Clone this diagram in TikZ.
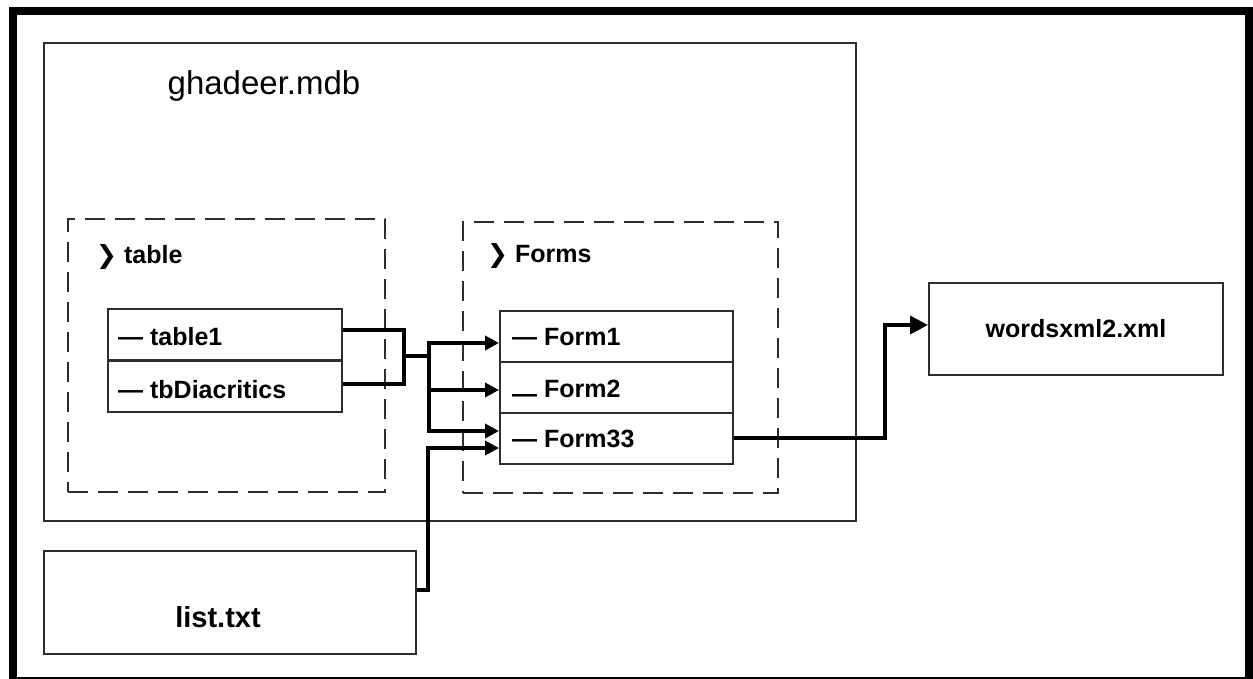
\documentclass[tikz,border=0pt]{standalone}
\usepackage{fontspec}
\setmainfont{Liberation Sans}
\newfontfamily\chevfont{DejaVu Sans}
\usetikzlibrary{arrows.meta,positioning}
\definecolor{fline}{HTML}{2E2E2E}

\begin{document}
\begin{tikzpicture}[x=1pt, y=-1pt,
  box/.style={draw=fline, line width=2pt, inner sep=0pt},
  group/.style={draw=fline, line width=2pt, dash pattern=on 20pt off 10pt, inner sep=0pt},
  row/.style={box, minimum width=234pt, minimum height=51pt},
  lbl/.style={font=\fontsize{25}{30}\selectfont\bfseries, anchor=base west, inner sep=0pt},
  conn/.style={line width=3.5pt},
  arr/.style={conn, -{Triangle[length=14pt,width=14pt]}},
  bigarr/.style={conn, -{Triangle[length=18pt,width=18pt]}}]
\useasboundingbox (0,0) rectangle (1253,679);
% ---- frame ----
\fill[black] (9,7) rectangle (1253,679);
\fill[white] (17,15) rectangle (1245,677);
% ---- database ----
\node[box, minimum width=812pt, minimum height=478pt] (mdb) at (450,282) {};
\node[font=\fontsize{33}{38}\selectfont, anchor=base, inner sep=0pt] (mdbname) at (264,95) {ghadeer.mdb};
% ---- table group ----
\node[group, minimum width=317pt, minimum height=273pt] (tabgrp) at (226.5,355.5) {};
\node[lbl] (tabhead) at (96,263) {{\chevfont\fontsize{25}{30}\selectfont ❯} table};
\node[row] (t1) at (225,334.5) {};
\node[row] (tbd) at (225,386) {};
\node[lbl] (t1name) at (118,345) {— table1};
\node[lbl] (tbdname) at (118,398) {— tbDiacritics};
% ---- forms group ----
\node[group, minimum width=315pt, minimum height=271pt] (formgrp) at (620.5,357.5) {};
\node[lbl] (formhead) at (487,262) {{\chevfont\fontsize{25}{30}\selectfont ❯} Forms};
\node[row, minimum width=233pt] (f1) at (616.5,336.5) {};
\node[row, minimum width=233pt] (f2) at (616.5,387.5) {};
\node[row, minimum width=233pt] (f33) at (616.5,438) {};
\node[lbl] (f1name) at (512,345) {— Form1};
\node[lbl] (f2name) at (512,397) {\raisebox{-5pt}{—} Form2};
\node[lbl] (f33name) at (512,447) {— Form33};
% ---- files ----
\node[box, minimum width=294pt, minimum height=92pt,
      font=\fontsize{25}{30}\selectfont\bfseries] (words) at (1076,329) {wordsxml2.xml};
\node[box, minimum width=372pt, minimum height=103pt] (list) at (230,602.5) {};
\node[font=\fontsize{29}{34}\selectfont\bfseries, anchor=base, inner sep=0pt] (listname) at (218,627) {list.txt};
% ---- connectors ----
\coordinate (jn) at (404,356);
\coordinate (tr) at (429,356);
\draw[conn] ([yshift=4.5pt]t1.east) -| (jn);
\draw[conn] ([yshift=2pt]tbd.east) -| (jn);
\draw[conn] (jn) -- (tr);
\draw[arr] (tr) |- ([yshift=-6.5pt]f1.west);
\draw[arr] (tr) |- ([yshift=-2.5pt]f2.west);
\draw[arr] (tr) |- ([yshift=7pt]f33.west);
\draw[arr] ([yshift=12.5pt]list.east) -- ++(11,0) |- ([yshift=-10pt]f33.west);
\draw[bigarr] (f33.east) -| ([xshift=-43pt,yshift=4pt]words.west) -- ([yshift=4pt]words.west);
\end{tikzpicture}
\end{document}
